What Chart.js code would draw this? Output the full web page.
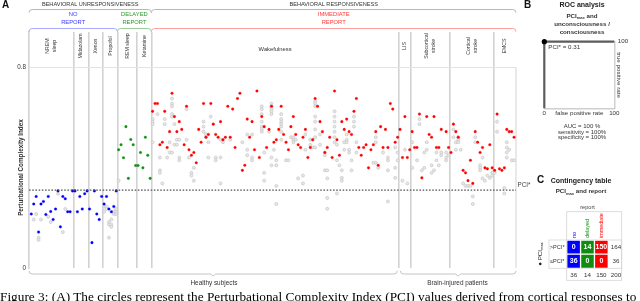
<!DOCTYPE html>
<html>
<head>
<meta charset="utf-8">
<script src="https://cdn.jsdelivr.net/npm/chart.js@4.4.0/dist/chart.umd.min.js"></script>
<style>
  html, body { margin: 0; padding: 0; background: #fff; }
  body { width: 640px; height: 301px; position: relative; overflow: hidden; }
  canvas { position: absolute; }
  #mainChart { left: 0; top: 0; }
  #rocChart { left: 520px; top: 0; }
  #tableChart { left: 520px; top: 150px; }
  .caption { position: absolute; left: 0; top: 289px; font: 13.3px "Liberation Serif", "DejaVu Serif", serif; white-space: nowrap; color: #000; }
</style>
</head>
<body>
<canvas id="mainChart" width="535" height="291"></canvas>
<canvas id="rocChart" width="120" height="150"></canvas>
<canvas id="tableChart" width="120" height="135"></canvas>
<div class="caption">Figure 3: (A) The circles represent the Perturbational Complexity Index (PCI) values derived from cortical responses to</div>
<script>
const FONT = '"Liberation Sans", Arial, sans-serif';
Chart.defaults.font.family = FONT;

/* ---- data ---- */
const groupNames = [['NREM', 'sleep'], ['Midazolam'], ['Xenon'], ['Propofol'], ['REM sleep'], ['Ketamine'],
  ['Wakefulness'], ['LIS'], ['Subcortical', 'stroke'], ['Cortical', 'stroke'], ['EMCS']];
const groupSizes = [18, 6, 6, 6, 8, 6, 102, 5, 16, 18, 9];
const healthyGroups = 7;

// PCI max per subject, in subject order (null = not readable)
const maxPci = [
  .215, .255, .285, .143, .255, .265, .213, .285, .225, .193, .235, .307, .164, .285, .276, .224, .224, .307,
  .307, .224, .285, .235, .296, .307,
  .235, .101, .307, .215, .193, .285,
  .255, .285, .235, .224, .245, .307,
  .471, .491, .439, .563, .357, .512, .491, .408,
  .408, .46, .399, .521, .449, .357,
  .624, .655, .655, .491, .501, .624, .48, .543, .696, .603, .543, .583, .552, .491, .644, .471, .449, .46, .419, .552,
  .501, .655, .521, .532, .655, .573, .532, .521, .583, .511, .521, .644, .521, .633, .48, .675, .696, .389, .409, .593,
  .521, .583, .471, .705, .44, .603, .563, .48, .552, .644, .501, .511, .552, .644, .532, .501, .471, .563, .603, .532,
  .491, .48, .521, .552, .44, .48, .511, .675, .644, .583, .543, .46, .48, .521, .44, .705, .511, .449, .583, .552,
  .593, .543, .532, .624, .675, .48, .449, .48, .491, .399, .471, .491, .543, .409, .563, .48, .552, .48, .655, .633,
  .501, .521,
  .552, .44, .603, .44, .471,
  .543, .48, .48, .613, .359, null, .603, .532, .521, .603, .48, .48, .552, null, .543, .48,
  .46, .573, .543, .521, null, .389, .379, .348, .429, .337, .543, .501, .46, .48, .399, .395, .491, .399,
  .389, .613, .395, .389, .399, .552, .543, .543, .521
];

// single-trial PCI values: [subject, values...]
const trialPci = [
  [1, .193], [2, .215], [3, .121, .112], [4, .193], [7, .204], [8, .183], [11, .296], [13, .143], [14, .235],
  [30, .224, .245], [31, .245, .235], [32, .183, .173, .121], [33, .193, .173, .164], [34, .215, .225], [35, .224, .215, .235],
  [36, .348],
  [50, .593, .583, .573, .501], [52, .613], [53, .44, .389, .379], [54, .337], [55, .593, .573], [56, .44],
  [57, .501, .46], [58, .675, .655, .644, .613, .603, .46], [59, .573, .491], [60, .511, .491], [61, .511, .44, .429],
  [64, .633, .511], [65, .44], [66, .379, .368], [67, .399, .348], [71, .583, .563, .543], [72, .532, .521],
  [73, .501, .44], [74, .603], [76, .44, .429], [78, .511, .44, .337], [79, .511, .501], [82, .511], [87, .501],
  [89, .532, .471, .449], [91, .532, .44, .429], [95, .644, .633, .613, .583, .563, .552, .543], [96, .46, .379, .348],
  [98, .543], [99, .655, .644, .633, .624, .613, .44, .409], [100, .471], [101, .429, .409, .327, .255],
  [103, .613, .593, .583, .573, .563, .543, .511], [105, .429], [106, .429], [107, .521], [108, .521, .511, .501],
  [109, .511], [110, .357], [112, .368, .337], [113, .532, .471], [115, .511, .491], [116, .511, .48],
  [117, .664, .655, .644, .603, .583, .552, .521, .48], [119, .532, .491], [121, .46, .449, .389],
  [122, .389, .357, .279, .236], [125, .624, .603, .583, .563, .543, .521, .501], [126, .491, .429, .297], [127, .409],
  [128, .389, .359, .348], [129, .501, .471], [130, .532, .511, .501], [131, .471, .46], [132, .429, .389],
  [133, .603, .583, .563], [134, .501, .46], [141, .419], [142, .521, .501, .419], [143, .399], [145, .46],
  [147, .44, .429, .389, .265], [150, .48, .399, .359], [151, .46, .429],
  [153, .348], [154, .471], [155, .337],
  [157, .501, .399], [159, .429], [160, .593, .573], [161, .389], [162, .46, .399], [163, .501, .471],
  [165, .409, .379], [166, .389], [167, .46, .429], [168, .409], [169, .46, .449], [171, .46, .44, .429], [172, .449],
  [174, .552, .521], [175, .501, .471], [176, .521, .511, .501], [177, .471], [178, .337], [179, .327], [180, .327],
  [181, .327], [182, .285, .255], [183, .521, .501], [185, .409, .399, .389], [186, .44, .357], [187, .348],
  [188, .368], [189, .359], [190, .379, .368],
  [191, .379], [192, .583, .543], [195, .319, .297], [196, .501, .48, .46, .44], [197, .471], [198, .429], [199, .429]
];

const pciStar = 0.31;
const yTicks = [0, 0.8];

// contingency table
const reportCats = ['no', 'delayed', 'immediate'];
const reportColors = ['#0000ff', '#108c10', '#ff0000'];
const aboveCounts = [0, 14, 150];
const belowCounts = [36, 0, 0];
const rowNames = ['>PCI*', '\u2264PCI*'];

// ROC
const rocFpr = [0, 0, 100];
const rocTpr = [0, 100, 100];
const cutIndex = 1;
const rocStats = ['AUC = 100 %', 'sensitivity = 100%', 'specificity = 100%'];

/* ---- helpers ---- */
const colTotals = aboveCounts.map((v, i) => v + belowCounts[i]);
const nSubjects = maxPci.length;
const xMin = -0.95, xMax = 199.8;
const groupStarts = [];
groupSizes.reduce((acc, n) => { groupStarts.push(acc); return acc + n; }, 0);
const dividers = groupStarts.slice(1).map(s => s - 0.5);
const reportStarts = [0, colTotals[0], colTotals[0] + colTotals[1]];

function subjectPoints(from, to) {
  const out = [];
  for (let i = from; i < to; i++) if (maxPci[i] != null) out.push({ x: i, y: maxPci[i] });
  return out;
}

function label(ctx, s, x, y, font, color, align, rot) {
  ctx.save();
  ctx.font = font;
  ctx.fillStyle = color || '#333';
  ctx.textAlign = align || 'center';
  ctx.textBaseline = 'middle';
  ctx.translate(x, y);
  if (rot) ctx.rotate(rot);
  ctx.fillText(s, 0, 0);
  ctx.restore();
}

// text with a "max" subscript: parts = [[text, isSub], ...]
function subLabel(ctx, parts, x, y, size, bold, color, align, rot) {
  ctx.save();
  const w = (p) => { ctx.font = (bold ? 'bold ' : '') + (p[1] ? size * 0.65 : size) + 'px ' + FONT; return ctx.measureText(p[0]).width; };
  const total = parts.reduce((s, p) => s + w(p), 0);
  ctx.translate(x, y);
  if (rot) ctx.rotate(rot);
  let cx = align === 'left' ? 0 : align === 'right' ? -total : -total / 2;
  ctx.fillStyle = color || '#333';
  ctx.textAlign = 'left';
  ctx.textBaseline = 'middle';
  parts.forEach(p => {
    const pw = w(p);
    ctx.fillText(p[0], cx, p[1] ? size * 0.3 : 0);
    cx += pw;
  });
  ctx.restore();
}

function brace(ctx, x0, x1, y, dir, color, notch) {
  const r = 3.2;
  ctx.save();
  ctx.beginPath();
  ctx.moveTo(x0, y + dir * r);
  ctx.quadraticCurveTo(x0, y, x0 + r, y);
  if (notch) {
    const m = (x0 + x1) / 2;
    ctx.lineTo(m - 2.5, y);
    ctx.lineTo(m, y - dir * 2);
    ctx.lineTo(m + 2.5, y);
  }
  ctx.lineTo(x1 - r, y);
  ctx.quadraticCurveTo(x1, y, x1, y + dir * r);
  ctx.strokeStyle = color;
  ctx.lineWidth = 1;
  ctx.stroke();
  ctx.restore();
}

/* ---- panel A ---- */
function rangePx(chart, s, e) {
  const { chartArea: a, scales: { x } } = chart;
  return [s === 0 ? a.left : x.getPixelForValue(s - 0.5), e >= nSubjects ? a.right : x.getPixelForValue(e - 0.5)];
}

const annotations = {
  id: 'annotations',
  beforeDatasetsDraw(chart) {
    const { ctx, chartArea: a, scales: { y } } = chart;
    ctx.save();
    ctx.strokeStyle = '#dadada';
    ctx.lineWidth = 1.2;
    ctx.beginPath();
    ctx.moveTo(a.right, y.getPixelForValue(yTicks[1]));
    ctx.lineTo(a.right, a.bottom);
    ctx.stroke();
    ctx.restore();
  },
  afterDraw(chart) {
    const { ctx, chartArea: a, scales: { y } } = chart;
    label(ctx, 'A', 2, 5.5, 'bold 10px ' + FONT, '#111', 'left');

    // top braces
    const unresp = rangePx(chart, 0, reportStarts[2]);
    const resp = rangePx(chart, reportStarts[2], nSubjects);
    brace(ctx, unresp[0], unresp[1], 9.5, 1, '#b8b8b8');
    brace(ctx, resp[0], resp[1], 9.5, 1, '#b8b8b8');
    label(ctx, 'BEHAVIORAL UNRESPONSIVENESS', (unresp[0] + unresp[1]) / 2, 4.5, '5.6px ' + FONT, '#333');
    label(ctx, 'BEHAVIORAL RESPONSIVENESS', (resp[0] + resp[1]) / 2, 4.5, '5.6px ' + FONT, '#333');

    const reportNames = [['NO', 'REPORT'], ['DELAYED', 'REPORT'], ['IMMEDIATE', 'REPORT']];
    const textColors = ['#3a3aff', '#2a9a2a', '#ff3a3a'];
    const braceColors = ['#aaaaff', '#99cc99', '#ffa0a0'];
    reportStarts.forEach((s, k) => {
      const [p0, p1] = rangePx(chart, s, s + colTotals[k]);
      brace(ctx, p0, p1, 28.5, 1, braceColors[k]);
      label(ctx, reportNames[k][0], (p0 + p1) / 2, 14.8, '5.8px ' + FONT, textColors[k]);
      label(ctx, reportNames[k][1], (p0 + p1) / 2, 22.5, '5.8px ' + FONT, textColors[k]);
    });

    // group names
    groupNames.forEach((lines, g) => {
      const [p0, p1] = rangePx(chart, groupStarts[g], groupStarts[g] + groupSizes[g]);
      const cx = (p0 + p1) / 2;
      if (groupSizes[g] > 50) {
        label(ctx, lines[0], cx, 49, '5.8px ' + FONT, '#333');
      } else {
        lines.forEach((t, k) => {
          label(ctx, t, cx + (k - (lines.length - 1) / 2) * 7, 46, '5.2px ' + FONT, '#333', 'center', -Math.PI / 2);
        });
      }
    });

    // axis title
    const yMid = (y.getPixelForValue(0) + y.getPixelForValue(yTicks[1])) / 2;
    label(ctx, 'Perturbational Complexity Index', 21.5, yMid, 'bold 6.3px ' + FONT, '#333', 'center', -Math.PI / 2);

    // threshold label
    label(ctx, 'PCI*', a.right + 1.5, y.getPixelForValue(pciStar) - 4.5, '6.3px ' + FONT, '#444', 'left');

    // bottom braces
    const healthyEnd = groupStarts[healthyGroups];
    const h = rangePx(chart, 0, healthyEnd);
    const p = rangePx(chart, healthyEnd, nSubjects);
    brace(ctx, h[0], h[1] - 1.5, a.bottom + 6, -1, '#c4c4c4', true);
    brace(ctx, p[0] + 1.5, p[1], a.bottom + 6, -1, '#c4c4c4', true);
    label(ctx, 'Healthy subjects', (h[0] + h[1]) / 2, a.bottom + 15.5, '6.4px ' + FONT, '#333');
    label(ctx, 'Brain-injured patients', (p[0] + p[1]) / 2, a.bottom + 15.5, '6.4px ' + FONT, '#333');
  }
};

const trialPoints = trialPci.flatMap(([i, ...vals]) => vals.map(v => ({ x: i, y: v })));
const markStyle = (c) => ({ pointRadius: 1.3, pointBackgroundColor: c, pointBorderColor: c + '70', pointBorderWidth: 0.7, pointHoverRadius: 1.3 });

new Chart(document.getElementById('mainChart'), {
  type: 'scatter',
  data: {
    datasets: [
      {
        label: 'PCI*',
        data: [{ x: xMin, y: pciStar }, { x: xMax, y: pciStar }],
        showLine: true,
        borderColor: '#555',
        borderWidth: 1.3,
        borderDash: [1.6, 1.6],
        pointRadius: 0,
      },
      { label: 'no report', data: subjectPoints(reportStarts[0], reportStarts[1]), ...markStyle('#0000ff') },
      { label: 'delayed report', data: subjectPoints(reportStarts[1], reportStarts[2]), ...markStyle('#109010') },
      { label: 'immediate report', data: subjectPoints(reportStarts[2], nSubjects), ...markStyle('#ff0000') },
      {
        label: 'trials',
        data: trialPoints,
        pointRadius: 1.5,
        pointBackgroundColor: '#e8e8e8',
        pointBorderColor: '#c6c6c6',
        pointBorderWidth: 0.7,
      },
    ],
  },
  options: {
    responsive: false,
    animation: false,
    events: [],
    layout: { padding: { left: 0, top: 32, right: 19, bottom: 23 } },
    plugins: { legend: { display: false }, tooltip: { enabled: false } },
    scales: {
      x: {
        type: 'linear',
        min: xMin,
        max: xMax,
        border: { display: false },
        grid: { color: '#d2d2d2', lineWidth: 1.6, drawTicks: false },
        ticks: { display: false },
        afterBuildTicks: (s) => { s.ticks = dividers.map(v => ({ value: v })); },
        afterFit: (s) => { s.height = 0; },
      },
      y: {
        min: 0,
        max: 0.94,
        border: { color: '#d2d2d2', width: 1.6 },
        grid: { color: (c) => (c.tick && c.tick.value === yTicks[1] ? '#e4e4e4' : 'rgba(0,0,0,0)'), drawTicks: false },
        ticks: { padding: 3, font: { size: 6.3 }, color: '#333', callback: (v) => String(v) },
        afterBuildTicks: (s) => { s.ticks = yTicks.map(v => ({ value: v })); },
        afterFit: (s) => { s.width = 29; },
      },
    },
  },
  plugins: [annotations],
});

/* ---- panel B: ROC ---- */
const rocText = {
  id: 'rocText',
  afterDraw(chart) {
    const { ctx, chartArea: a } = chart;
    const cx = 62;
    label(ctx, 'B', 4, 5.5, 'bold 10px ' + FONT, '#111', 'left');
    label(ctx, 'ROC analysis', cx, 5.5, 'bold 7px ' + FONT, '#222');
    subLabel(ctx, [['PCI', false], ['max', true], [' and', false]], cx, 16.5, 6.2, true, '#333', 'center');
    label(ctx, 'unconsciousness /', cx, 24.5, 'bold 6.2px ' + FONT, '#333');
    label(ctx, 'consciousness', cx, 32, 'bold 6.2px ' + FONT, '#333');
    label(ctx, 'PCI* = ' + pciStar, a.left + 4, a.top + 5.5, '6.2px ' + FONT, '#333', 'left');
    label(ctx, 'true positive rate', a.right + 4.5, (a.top + a.bottom) / 2, '6.2px ' + FONT, '#333', 'center', Math.PI / 2);
    rocStats.forEach((t, k) => label(ctx, t, cx, 126.5 + k * 5.6, '6px ' + FONT, '#333'));
  }
};

new Chart(document.getElementById('rocChart'), {
  type: 'line',
  data: {
    datasets: [{
      data: rocFpr.map((x, i) => ({ x, y: rocTpr[i] })),
      borderColor: '#5c5c5c',
      borderWidth: 2.2,
      tension: 0,
      clip: false,
      pointRadius: rocFpr.map((_, i) => (i === cutIndex ? 2.6 : 0)),
      pointBackgroundColor: '#000',
      pointBorderWidth: 0,
    }],
  },
  options: {
    responsive: false,
    animation: false,
    events: [],
    layout: { padding: { left: 24.3, top: 41.7, right: 0, bottom: 31.7 } },
    plugins: { legend: { display: false }, tooltip: { enabled: false } },
    scales: {
      x: {
        type: 'linear', min: 0, max: 100,
        border: { color: '#cfcfcf', width: 1.5 },
        grid: { display: false, drawTicks: false },
        ticks: { autoSkip: false, maxRotation: 0, padding: 1.5, font: { size: 6.2 }, color: '#333',
          callback: (v) => (v === 50 ? 'false positive rate' : String(v)) },
        afterBuildTicks: (s) => { s.ticks = [0, 50, 100].map(v => ({ value: v })); },
        afterFit: (s) => { s.height = 10; },
      },
      y: {
        position: 'right', min: 0, max: 100,
        border: { color: '#cfcfcf', width: 1.5 },
        grid: { display: false, drawTicks: false },
        ticks: { padding: 3.5, font: { size: 6.2 }, color: '#333' },
        afterBuildTicks: (s) => { s.ticks = [{ value: 100 }]; },
        afterFit: (s) => { s.width = 25.7; },
      },
    },
  },
  plugins: [rocText],
});

/* ---- panel C: contingency table ---- */
const tableText = {
  id: 'tableText',
  beforeDraw(chart) {
    const { ctx, chartArea: a } = chart;
    ctx.save();
    ctx.strokeStyle = '#d4d4d4';
    ctx.lineWidth = 0.8;
    ctx.strokeRect(a.left, a.top - 28.3, a.right - a.left + 13.4, a.bottom - a.top + 40.3);
    ctx.strokeRect(a.left - 17.7, a.top, a.right - a.left + 31.1, a.bottom - a.top);
    ctx.restore();
  },
  afterDraw(chart) {
    const { ctx, chartArea: a } = chart;
    label(ctx, 'C', 17, 30.5, 'bold 10px ' + FONT, '#111', 'left');
    label(ctx, 'Contingency table', 61, 31, 'bold 7px ' + FONT, '#222');
    subLabel(ctx, [['PCI', false], ['max', true], [' and report', false]], 61, 41.7, 6.2, true, '#333', 'center');
    label(ctx, 'report', (a.left + a.right) / 2, 57.3, '5.6px ' + FONT, '#444');

    const below = chart.getDatasetMeta(0).data;
    const above = chart.getDatasetMeta(1).data;
    reportCats.forEach((c, i) => {
      label(ctx, c, below[i].x + 0.5, a.top - 2, '5.4px ' + FONT, reportColors[i], 'left', -Math.PI / 2);
      label(ctx, String(aboveCounts[i]), above[i].x, (above[i].y + above[i].base) / 2, 'bold 7px ' + FONT, '#fff');
      label(ctx, String(belowCounts[i]), below[i].x, (below[i].y + below[i].base) / 2, 'bold 7px ' + FONT, '#fff');
      label(ctx, String(colTotals[i]), below[i].x, a.bottom + 7.3, '6.2px ' + FONT, '#333');
    });
    const rowAboveY = (above[0].y + above[0].base) / 2;
    const rowBelowY = (below[0].y + below[0].base) / 2;
    const rx = a.right + 7.7;
    label(ctx, rowNames[0], a.left - 9.5, rowAboveY, '5.6px ' + FONT, '#333');
    label(ctx, rowNames[1], a.left - 9.5, rowBelowY, '5.6px ' + FONT, '#333');
    label(ctx, String(aboveCounts.reduce((s, v) => s + v, 0)), rx, rowAboveY, '6.2px ' + FONT, '#333');
    label(ctx, String(belowCounts.reduce((s, v) => s + v, 0)), rx, rowBelowY, '6.2px ' + FONT, '#333');
    label(ctx, String(colTotals.reduce((s, v) => s + v, 0)), rx, a.bottom + 7.3, '6.2px ' + FONT, '#333');
    subLabel(ctx, [['\u25CF PCI', false], ['max', true]], 20.5, (a.top + a.bottom) / 2, 6.2, false, '#222', 'center', -Math.PI / 2);
  }
};

new Chart(document.getElementById('tableChart'), {
  type: 'bar',
  data: {
    labels: reportCats,
    datasets: [
      { label: rowNames[1], data: belowCounts.map(() => 1), backgroundColor: reportColors },
      { label: rowNames[0], data: aboveCounts.map(() => 1), backgroundColor: reportColors },
    ],
  },
  options: {
    responsive: false,
    animation: false,
    events: [],
    layout: { padding: { left: 46.7, right: 31.7, top: 90, bottom: 16.7 } },
    datasets: { bar: { barPercentage: 1, categoryPercentage: 1, borderColor: '#fff', borderWidth: 1, borderSkipped: false } },
    plugins: { legend: { display: false }, tooltip: { enabled: false } },
    scales: {
      x: { stacked: true, display: false },
      y: { stacked: true, display: false, min: 0, max: 2 },
    },
  },
  plugins: [tableText],
});
</script>
</body>
</html>
